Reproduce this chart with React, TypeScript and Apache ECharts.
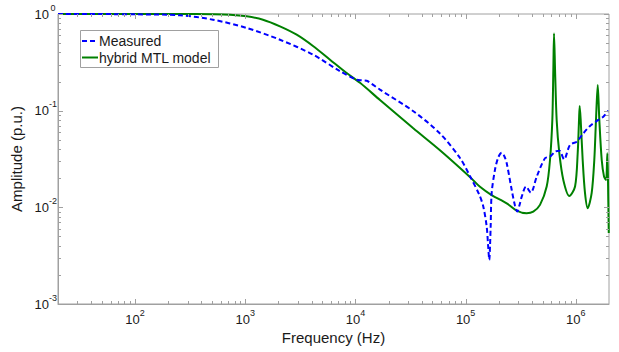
import React, { useEffect, useRef } from 'react';
import * as echarts from 'echarts';

// ---- data ----
const measuredFreq = [
  20, 50, 100, 256, 510, 1031, 2066, 4120, 7240, 10260, 11500, 12650, 14000, 16700,
  33300, 58500, 88900, 109600, 133000, 144600, 155300, 160000, 164000, 166500, 168700,
  172300, 184600, 198000, 212300, 224000, 236000, 262000, 280000, 294500, 308000,
  323000, 353000, 390000, 442000, 525000, 583000, 648000, 708000, 782000, 885000,
  1019000, 1170000, 1345000, 1600000, 1775000, 1972000,
];
const measuredAmp = [
  1.0, 0.998, 0.993, 0.97, 0.873, 0.717, 0.542, 0.38, 0.256, 0.209, 0.206, 0.204, 0.19, 0.165,
  0.0993, 0.058, 0.0324, 0.021, 0.0135, 0.0102, 0.0063, 0.004, 0.00286, 0.004, 0.0063,
  0.014, 0.0244, 0.033, 0.0368, 0.034, 0.0286, 0.0151, 0.0105, 0.00903, 0.0105,
  0.0129, 0.0164, 0.0142, 0.0208, 0.0322, 0.0334, 0.0377, 0.0386, 0.0314, 0.0442,
  0.0478, 0.0583, 0.0695, 0.0802, 0.0867, 0.1,
];
const modelFreq = [
  20, 100, 256, 500, 728, 1031, 1449, 2066, 2930, 4120, 5880, 8330, 11000, 16700,
  33300, 58500, 110000, 135000, 172000, 236000, 290000, 358000, 411000, 473000,
  544000, 583000, 612000, 625000, 634000, 648000, 670000, 708000, 770000, 873000,
  984000, 1040000, 1069000, 1084000, 1107000, 1154000, 1211000, 1282000, 1393000,
  1471000, 1524000, 1580000, 1634000, 1718000, 1803000, 1880000, 1932000, 1972000, 1990000,
];
const modelAmp = [
  1.0, 1.0, 1.0, 0.995, 0.984, 0.946, 0.873, 0.746, 0.611, 0.467, 0.337, 0.245, 0.194, 0.129,
  0.0662, 0.039, 0.0205, 0.0163, 0.0134, 0.011, 0.00925, 0.00869, 0.00903, 0.0106,
  0.0164, 0.0309, 0.0802, 0.264, 0.63, 0.264, 0.0802, 0.0365, 0.0192, 0.0131,
  0.0164, 0.0365, 0.0802, 0.112, 0.0802, 0.0309, 0.0141, 0.0098, 0.0141,
  0.0309, 0.0802, 0.1845, 0.0802, 0.0309, 0.0208, 0.0192, 0.0362, 0.0111, 0.00544,
];
const seriesNames = ['Measured', 'hybrid MTL model'];
const xDecades = [10, 100, 1000, 10000, 100000, 1000000];
const yDecades = [0.001, 0.01, 0.1, 1];
const minorMultipliers = [2, 3, 4, 5, 6, 7, 8, 9];
const X_MIN = 20;
const X_MAX = 2000000;
const Y_MIN = 0.001;
const Y_MAX = 1;

const AXIS = '#a0a0a0';
const TEXT = '#1a1a1a';
const BLUE = '#0000ff';
const GREEN = '#008000';
const DASH = [5, 3];
const FONT = '"Liberation Sans", Arial, Helvetica, sans-serif';

function buildTicks(decades: number[], lo: number, hi: number) {
  const out: number[][] = [];
  decades.forEach((d) => {
    if (d >= lo && d <= hi) out.push([d, 1]);
    minorMultipliers.forEach((m) => {
      const v = d * m;
      if (v > lo && v < hi) out.push([v, 0]);
    });
  });
  return out;
}

function isDecade(v: number) {
  const l = Math.log10(v);
  return Math.abs(l - Math.round(l)) < 1e-6;
}

export default function App() {
  const ref = useRef<HTMLDivElement>(null);
  useEffect(() => {
    document.body.style.margin = '0';
    const chart = echarts.init(ref.current!, null, { renderer: 'svg' });
    const xTicks = buildTicks(xDecades, X_MIN, X_MAX);
    const yTicks = buildTicks(yDecades.slice(0, 3), Y_MIN, Y_MAX).concat([[1, 1]]);

    const xTickSeries = {
      type: 'custom',
      silent: true,
      z: 5,
      data: xTicks.map((t) => [t[0], 0.01, t[1]]),
      renderItem: (params: any, api: any) => {
        const cs = params.coordSys;
        const p = api.coord([api.value(0), api.value(1)]);
        const x = Math.round(p[0]) + 0.5;
        const len = api.value(2) ? 5 : 3;
        const bottom = cs.y + cs.height;
        const top = cs.y;
        return {
          type: 'group',
          children: [
            { type: 'line', shape: { x1: x, y1: bottom, x2: x, y2: bottom - len }, style: { stroke: AXIS, lineWidth: 1 } },
            { type: 'line', shape: { x1: x, y1: top, x2: x, y2: top + len }, style: { stroke: AXIS, lineWidth: 1 } },
          ],
        };
      },
    };
    const yTickSeries = {
      type: 'custom',
      silent: true,
      z: 5,
      data: yTicks.map((t) => [1000, t[0], t[1]]),
      renderItem: (params: any, api: any) => {
        const cs = params.coordSys;
        const p = api.coord([api.value(0), api.value(1)]);
        const y = Math.round(p[1]) + 0.5;
        const len = api.value(2) ? 5 : 3;
        const left = cs.x;
        const right = cs.x + cs.width;
        return {
          type: 'group',
          children: [
            { type: 'line', shape: { x1: left, y1: y, x2: left + len, y2: y }, style: { stroke: AXIS, lineWidth: 1 } },
            { type: 'line', shape: { x1: right, y1: y, x2: right - len, y2: y }, style: { stroke: AXIS, lineWidth: 1 } },
          ],
        };
      },
    };

    const labelRich = {
      b: { fontSize: 13, lineHeight: 22, color: TEXT, fontFamily: FONT },
      s: { fontSize: 9, lineHeight: 10, verticalAlign: 'top', color: TEXT, fontFamily: FONT },
    };
    const yLabelRich = {
      b: { fontSize: 13, lineHeight: 22, color: TEXT, fontFamily: FONT },
      s: { fontSize: 9, lineHeight: 10, verticalAlign: 'top', color: TEXT, fontFamily: FONT, width: 8, align: 'left' },
    };
    const fmt = (v: number) => {
      if (!isDecade(v)) return '';
      return `{b|10}{s|${Math.round(Math.log10(v))}}`;
    };

    const legendItem = (y: number, name: string, color: string, dashed: boolean) => [
      {
        type: 'line',
        shape: { x1: 82, y1: y, x2: 98, y2: y },
        style: { stroke: color, lineWidth: 2, lineDash: dashed ? DASH : null },
      },
      {
        type: 'text',
        x: 99,
        y,
        style: { text: name, fontSize: 14, fontFamily: FONT, fill: TEXT, verticalAlign: 'middle', align: 'left' },
      },
    ];

    chart.setOption({
      animation: false,
      backgroundColor: '#ffffff',
      textStyle: { fontFamily: FONT },
      grid: { left: 58, top: 14, right: 10, bottom: 48, show: true, borderColor: AXIS, borderWidth: 1 },
      graphic: [
        {
          type: 'group',
          z: 100,
          children: [
            {
              type: 'rect',
              shape: { x: 80.5, y: 30.5, width: 138, height: 37 },
              style: { fill: '#ffffff', stroke: AXIS, lineWidth: 1 },
            },
            ...legendItem(41, seriesNames[0], BLUE, true),
            ...legendItem(57.5, seriesNames[1], GREEN, false),
          ],
        },
      ],
      xAxis: {
        type: 'log',
        logBase: 10,
        min: X_MIN,
        max: X_MAX,
        name: 'Frequency (Hz)',
        nameLocation: 'middle',
        nameGap: 23,
        nameTextStyle: { fontSize: 15, color: TEXT, fontFamily: FONT },
        axisLine: { show: true, lineStyle: { color: AXIS, width: 1 } },
        axisTick: { show: false },
        minorTick: { show: false },
        splitLine: { show: false },
        axisLabel: { margin: 4, formatter: fmt, rich: labelRich },
      },
      yAxis: {
        type: 'log',
        logBase: 10,
        min: Y_MIN,
        max: Y_MAX,
        name: 'Amplitude (p.u.)',
        nameLocation: 'middle',
        nameGap: 26,
        nameTextStyle: { fontSize: 15, color: TEXT, fontFamily: FONT },
        axisLine: { show: true, lineStyle: { color: AXIS, width: 1 } },
        axisTick: { show: false },
        minorTick: { show: false },
        splitLine: { show: false },
        axisLabel: { margin: 1, formatter: fmt, rich: yLabelRich },
      },
      series: [
        {
          name: seriesNames[0],
          type: 'line',
          data: measuredFreq.map((f, i) => [f, measuredAmp[i]]),
          showSymbol: false,
          symbol: 'none',
          smooth: 0.3,
          z: 3,
          itemStyle: { color: BLUE },
          lineStyle: { color: BLUE, width: 2, type: DASH },
        },
        {
          name: seriesNames[1],
          type: 'line',
          data: modelFreq.map((f, i) => [f, modelAmp[i]]),
          showSymbol: false,
          symbol: 'none',
          smooth: 0.3,
          z: 2,
          itemStyle: { color: GREEN },
          lineStyle: { color: GREEN, width: 2 },
        },
        xTickSeries,
        yTickSeries,
      ],
    });
    return () => chart.dispose();
  }, []);
  return <div ref={ref} style={{ width: 619, height: 352 }} />;
}
